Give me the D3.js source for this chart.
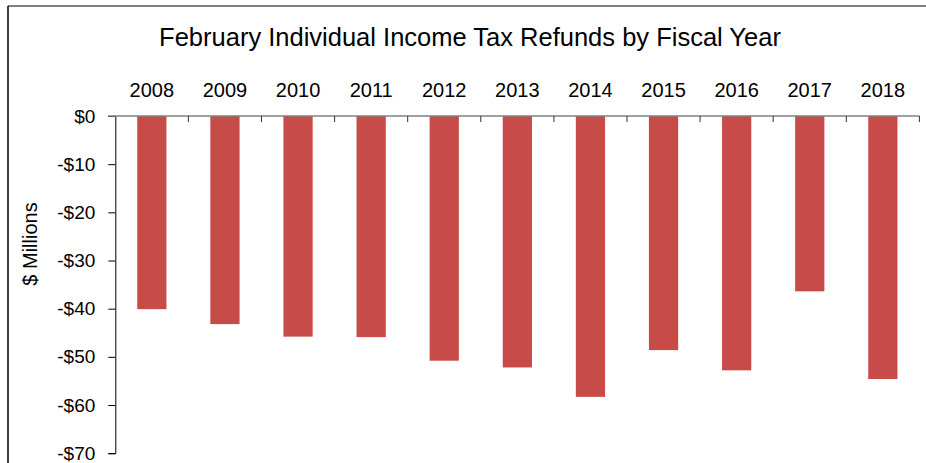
<!DOCTYPE html>
<html>
<head>
<meta charset="utf-8">
<script src="https://cdn.jsdelivr.net/npm/d3@7"></script>
<style>
  body { margin: 0; background: #fff; }
  svg { display: block; font-family: Arial, "Liberation Sans", sans-serif; }
</style>
</head>
<body>
<svg id="chart" width="926" height="463"></svg>
<script>
// data
const years = ['2008', '2009', '2010', '2011', '2012', '2013', '2014', '2015', '2016', '2017', '2018']
const refunds = [-40.1, -43.2, -45.8, -45.9, -50.8, -52.2, -58.3, -48.6, -52.8, -36.4, -54.6]
const yTicks = [0, -10, -20, -30, -40, -50, -60, -70]

const svg = d3.select('#chart')

// chart frame (top + left only visible)
svg.append('line')
  .attr('x1', 8).attr('x2', 926)
  .attr('y1', 6).attr('y2', 6)
  .attr('stroke', '#808080')
  .attr('stroke-width', 2)
svg.append('line')
  .attr('x1', 8).attr('x2', 8)
  .attr('y1', 6).attr('y2', 463)
  .attr('stroke', '#000')
  .attr('stroke-width', 1.5)

const x = d3.scaleBand()
  .domain(years)
  .range([115.3, 919.4])
  .paddingInner(0.6)
  .paddingOuter(0.3)

const y = d3.scaleLinear()
  .domain([-70, 0])
  .range([453.2, 116])

// bars
svg.selectAll('.bar')
  .data(years.map((d, i) => ({ year: d, value: refunds[i] })))
  .enter()
  .append('rect')
  .attr('class', 'bar')
  .attr('x', (d) => x(d.year))
  .attr('y', y(0))
  .attr('width', x.bandwidth())
  .attr('height', (d) => y(d.value) - y(0))
  .attr('fill', '#c64b49')

// y axis
const yAxis = svg.append('g')
  .attr('transform', 'translate(115.3,0)')
  .call(d3.axisLeft(y).tickValues(yTicks).tickSize(7).tickPadding(13)
    .tickFormat((d) => (d < 0 ? '-$' + Math.abs(d) : '$' + d)))
yAxis.select('.domain').attr('stroke', '#000')
yAxis.selectAll('.tick line').attr('stroke', '#000')
yAxis.selectAll('text')
  .attr('font-size', 19)
  .attr('fill', '#000')
  .style('font-family', 'Arial, "Liberation Sans", sans-serif')

// zero line with category tick marks
svg.append('line')
  .attr('x1', 108).attr('x2', 919.4)
  .attr('y1', y(0)).attr('y2', y(0))
  .attr('stroke', '#808080')
  .attr('stroke-width', 1.5)

const step = x.step()
svg.selectAll('.cat-tick')
  .data(years)
  .enter()
  .append('line')
  .attr('class', 'cat-tick')
  .attr('x1', (d) => x(d) - x.paddingOuter() * step + step)
  .attr('x2', (d) => x(d) - x.paddingOuter() * step + step)
  .attr('y1', y(0))
  .attr('y2', y(0) + 6)
  .attr('stroke', '#333')

// category labels above
svg.selectAll('.cat-label')
  .data(years)
  .enter()
  .append('text')
  .attr('class', 'cat-label')
  .attr('x', (d) => x(d) + x.bandwidth() / 2)
  .attr('y', 97)
  .attr('text-anchor', 'middle')
  .attr('font-size', 20)
  .text((d) => d)

// title
svg.append('text')
  .attr('x', 470)
  .attr('y', 46)
  .attr('text-anchor', 'middle')
  .attr('font-size', 25.5)
  .text('February Individual Income Tax Refunds by Fiscal Year')

// y axis title
svg.append('text')
  .attr('transform', 'translate(37,244) rotate(-90)')
  .attr('text-anchor', 'middle')
  .attr('font-size', 20)
  .text('$ Millions')
</script>
</body>
</html>
